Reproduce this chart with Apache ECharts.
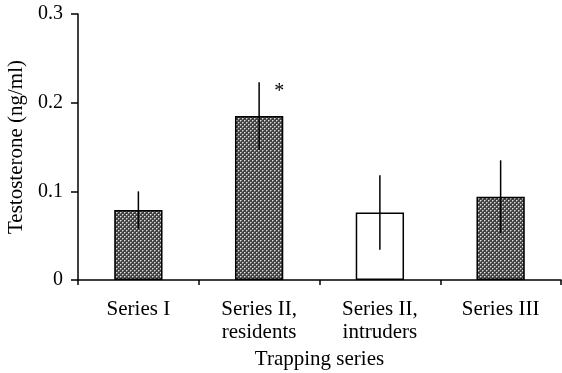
<!DOCTYPE html>
<html><head><meta charset="utf-8">
<script src="https://cdn.jsdelivr.net/npm/echarts@6/dist/echarts.min.js"></script>
<style>html,body{margin:0;padding:0;background:#fff}#c{width:562px;height:373px}</style>
</head><body><div id="c"></div>
<script>
const categories = ['Series I', 'Series II,\nresidents', 'Series II,\nintruders', 'Series III'];
const means = [0.079, 0.185, 0.076, 0.094];
const errors = [0.021, 0.038, 0.042, 0.041];
const hatched = [true, true, false, true];
const marks = ['', '*', '', ''];
const yTicks = [0, 0.1, 0.2, 0.3];

function makePattern() {
  const c = document.createElement('canvas');
  c.width = 4; c.height = 4;
  const g = c.getContext('2d');
  g.fillStyle = '#434343'; g.fillRect(0, 0, 4, 4);
  g.fillStyle = '#e0e0e0';
  [[0,0],[2,2]].forEach(p => g.fillRect(p[0], p[1], 1, 1));
  g.fillStyle = '#8a8a8a';
  [[1,0],[0,1],[3,2],[2,3]].forEach(p => g.fillRect(p[0], p[1], 1, 1));
  return c;
}
const pattern = {image: makePattern(), repeat: 'repeat'};
const font = 'Liberation Serif';

const chart = echarts.init(document.getElementById('c'), null, {renderer: 'canvas'});
chart.setOption({
  animation: false,
  grid: {left: 78, right: 1, top: 14, bottom: 93, containLabel: false, outerBoundsMode: 'none'},
  xAxis: {
    type: 'category', data: categories,
    axisLine: {lineStyle: {color: '#000', width: 1.5}},
    axisTick: {show: true, length: 5, lineStyle: {color: '#000', width: 1.5}, alignWithLabel: false},
    axisLabel: {color: '#000', fontFamily: font, fontSize: 21, margin: 18, lineHeight: 23, interval: 0},
    name: 'Trapping series', nameLocation: 'middle', nameGap: 68,
    nameTextStyle: {color: '#000', fontFamily: font, fontSize: 21}
  },
  yAxis: {
    type: 'value', min: 0, max: 0.3, interval: 0.1,
    axisLine: {show: true, lineStyle: {color: '#000', width: 1.5}},
    axisTick: {show: true, length: 7, lineStyle: {color: '#000', width: 1.5}},
    splitLine: {show: false},
    axisLabel: {color: '#000', fontFamily: font, fontSize: 20, margin: 15,
      formatter: v => { const t = yTicks.find(x => Math.abs(x - v) < 1e-9); return t === 0 ? '0' : String(t); }},
    name: 'Testosterone (ng/ml)', nameLocation: 'middle', nameGap: 48,
    nameTextStyle: {color: '#000', fontFamily: font, fontSize: 21}
  },
  series: [
    {
      type: 'bar', barWidth: '40%',
      data: means.map((v, i) => ({value: v, itemStyle: {color: hatched[i] ? pattern : '#fff'}})),
      itemStyle: {borderColor: '#000', borderWidth: 1.5}
    },
    {
      type: 'custom', z: 10,
      data: means.map((v, i) => [i, v - errors[i], v + errors[i], marks[i]]),
      renderItem: (params, api) => {
        const lo = api.coord([api.value(0), api.value(1)]);
        const hi = api.coord([api.value(0), api.value(2)]);
        const children = [{type: 'line', shape: {x1: lo[0], y1: lo[1], x2: hi[0], y2: hi[1]},
          style: {stroke: '#000', lineWidth: 1.5}}];
        const m = marks[params.dataIndex];
        if (m) children.push({type: 'text', x: hi[0] + 20, y: hi[1] + 9,
          style: {text: m, fill: '#000', font: '20px "' + font + '"', align: 'center', verticalAlign: 'middle'}});
        return {type: 'group', children};
      }
    }
  ]
});
</script></body></html>
